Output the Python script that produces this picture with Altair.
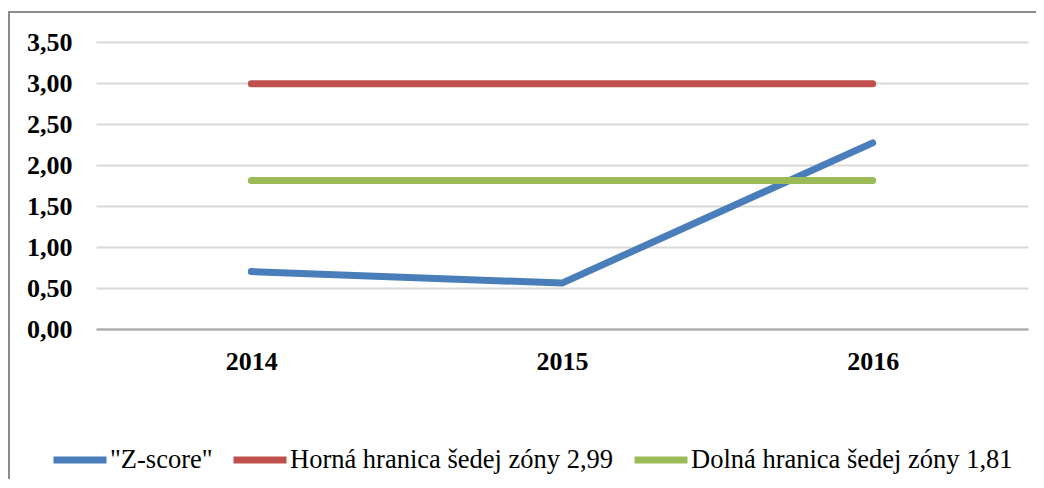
import altair as alt
import pandas as pd

years = ["2014", "2015", "2016"]
series = ['"Z-score"', "Horná hranica šedej zóny 2,99", "Dolná hranica šedej zóny 1,81"]
z_score = [0.70, 0.56, 2.27]
upper = [2.99, 2.99, 2.99]
lower = [1.81, 1.81, 1.81]
colors = ["#4A7EBB", "#C0504D", "#9BBB59"]

rows = []
for name, vals in zip(series, [z_score, upper, lower]):
    for y, v in zip(years, vals):
        rows.append({"rok": y, "séria": name, "hodnota": v})
df = pd.DataFrame(rows)

FONT = "Liberation Serif"

lines = alt.Chart(df).mark_line(strokeWidth=7, strokeCap="round", strokeJoin="round").encode(
    x=alt.X("rok:N", sort=years, title=None,
            scale=alt.Scale(paddingInner=0, paddingOuter=0),
            axis=alt.Axis(labelAngle=0, ticks=False, domain=True, domainColor="#A6A6A6",
                          domainWidth=2, labelFont=FONT, labelFontSize=26, labelFontWeight="bold",
                          labelColor="#000000", labelPadding=19, grid=False)),
    y=alt.Y("hodnota:Q", title=None,
            scale=alt.Scale(domain=[0, 3.5], nice=False),
            axis=alt.Axis(values=[0, 0.5, 1, 1.5, 2, 2.5, 3, 3.5], ticks=False, domain=False,
                          labelExpr="replace(format(datum.value, '.2f'), '.', ',')",
                          labelFont=FONT, labelFontSize=26, labelFontWeight="bold",
                          labelColor="#000000", labelPadding=24,
                          gridColor="#D9D9D9", gridWidth=2)),
    color=alt.Color("séria:N", sort=series,
                    scale=alt.Scale(domain=series, range=colors),
                    legend=alt.Legend(title=None, orient="none", direction="horizontal",
                                      legendX=-46, legendY=388,
                                      symbolType="stroke", symbolStrokeWidth=7, symbolSize=2809,
                                      labelFont=FONT, labelFontSize=26.5, labelColor="#000000",
                                      labelOffset=0, columnPadding=6, labelLimit=600)),
    order=alt.Order("séria:N"),
)

border = alt.Chart(df).mark_rect(fill=None, stroke="#8C8C8C", strokeWidth=2).encode(
    x=alt.value(-87), x2=alt.value(1200), y=alt.value(-30), y2=alt.value(600)
)

chart = alt.layer(border, lines).properties(
    width=932, height=287,
    padding={"left": 88, "top": 34, "right": 8, "bottom": 150},
    autosize=alt.AutoSizeParams(type="none"),
).configure_view(stroke=None)

chart.save("out.html", embed_options={"renderer": "svg", "actions": False})
